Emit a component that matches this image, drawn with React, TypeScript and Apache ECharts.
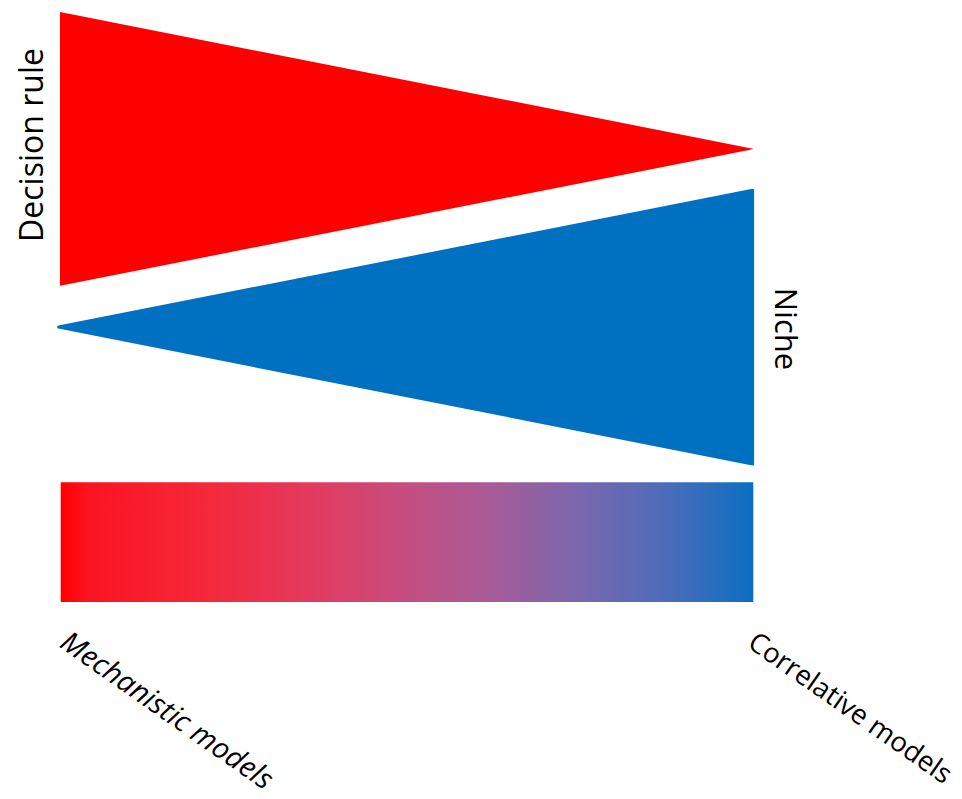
import React, { useEffect, useRef } from "react";
import * as echarts from "echarts";

// Diagram data in a 0..100 x 0..100 data space (x: mechanistic -> correlative, y: bottom -> top)
const redTriangle: [number, number][] = [
  [0, 100],
  [0, 53.6],
  [100, 76.8],
];
const blueTriangle: [number, number][] = [
  [-0.2, 46.6],
  [99.8, 69.8],
  [99.8, 23.4],
];
const gradientBar: [number, number, number, number] = [0.1, 0, 99.9, 20.3]; // x0, y0, x1, y1
const gradientStops: [number, string][] = [
  [0, "#FF0000"],
  [0.04, "#FB1422"],
  [0.2, "#F52738"],
  [0.35, "#E5385C"],
  [0.5, "#C54E80"],
  [0.62, "#A75B98"],
  [0.75, "#7A67AE"],
  [0.88, "#4A6CBB"],
  [1, "#0A6FC2"],
];
const labels = {
  top: "Decision rule",
  right: "Niche",
  left: "Mechanistic models",
  rightBottom: "Correlative models",
};

export default function App() {
  const ref = useRef<HTMLDivElement>(null);
  useEffect(() => {
    if (!ref.current) return;
    const chart = echarts.init(ref.current, null, { renderer: "svg" });
    const shapes = [
      { kind: "tri", pts: redTriangle, color: "#FF0000" },
      { kind: "tri", pts: blueTriangle, color: "#0070C0" },
      { kind: "rect", pts: [[gradientBar[0], gradientBar[1]], [gradientBar[2], gradientBar[3]]] },
    ];
    chart.setOption({
      animation: false,
      grid: { left: 60, right: 208, top: 12, bottom: 197 },
      xAxis: { type: "value", min: 0, max: 100, show: false },
      yAxis: { type: "value", min: 0, max: 100, show: false },
      series: [
        {
          type: "custom",
          coordinateSystem: "cartesian2d",
          data: shapes.map((_, i) => [i, 0]),
          renderItem: (params: any, api: any) => {
            const s = shapes[params.dataIndex];
            if (s.kind === "tri") {
              const points = (s.pts as [number, number][]).map((p) => api.coord(p));
              const blue = s.color === "#0070C0";
              return {
                type: "polygon",
                shape: { points },
                style: {
                  fill: s.color,
                  stroke: blue ? s.color : null,
                  lineWidth: blue ? 3 : 0,
                  lineJoin: "round",
                },
              };
            }
            const p0 = api.coord(s.pts[0]);
            const p1 = api.coord(s.pts[1]);
            return {
              type: "rect",
              shape: {
                x: p0[0],
                y: p1[1],
                width: p1[0] - p0[0],
                height: p0[1] - p1[1],
              },
              style: {
                fill: new echarts.graphic.LinearGradient(
                  0,
                  0,
                  1,
                  0,
                  gradientStops.map(([offset, color]) => ({ offset, color }))
                ),
              },
            };
          },
        },
      ],
      graphic: [
        {
          type: "text",
          x: 30,
          y: 145,
          rotation: Math.PI / 2,
          style: {
            text: labels.top,
            font: '32px "Open Sans", "Noto Sans", sans-serif',
            fill: "#000",
            align: "center",
            verticalAlign: "middle",
          },
        },
        {
          type: "text",
          x: 787,
          y: 329,
          rotation: -Math.PI / 2,
          style: {
            text: labels.right,
            font: '31px "Open Sans", "Noto Sans", sans-serif',
            fill: "#000",
            align: "center",
            verticalAlign: "middle",
          },
        },
        {
          type: "text",
          x: 168,
          y: 709,
          rotation: (-35 * Math.PI) / 180,
          style: {
            text: labels.left,
            font: 'italic 29px "Open Sans", "Noto Sans", sans-serif',
            fill: "#000",
            align: "center",
            verticalAlign: "middle",
          },
        },
        {
          type: "text",
          x: 851,
          y: 707,
          rotation: (-35 * Math.PI) / 180,
          style: {
            text: labels.rightBottom,
            font: '27.5px "Open Sans", "Noto Sans", sans-serif',
            fill: "#000",
            align: "center",
            verticalAlign: "middle",
          },
        },
      ],
    });
    return () => chart.dispose();
  }, []);
  return (
    <div
      ref={ref}
      style={{ position: "fixed", left: 0, top: 0, width: 962, height: 799, background: "#fff" }}
    />
  );
}
